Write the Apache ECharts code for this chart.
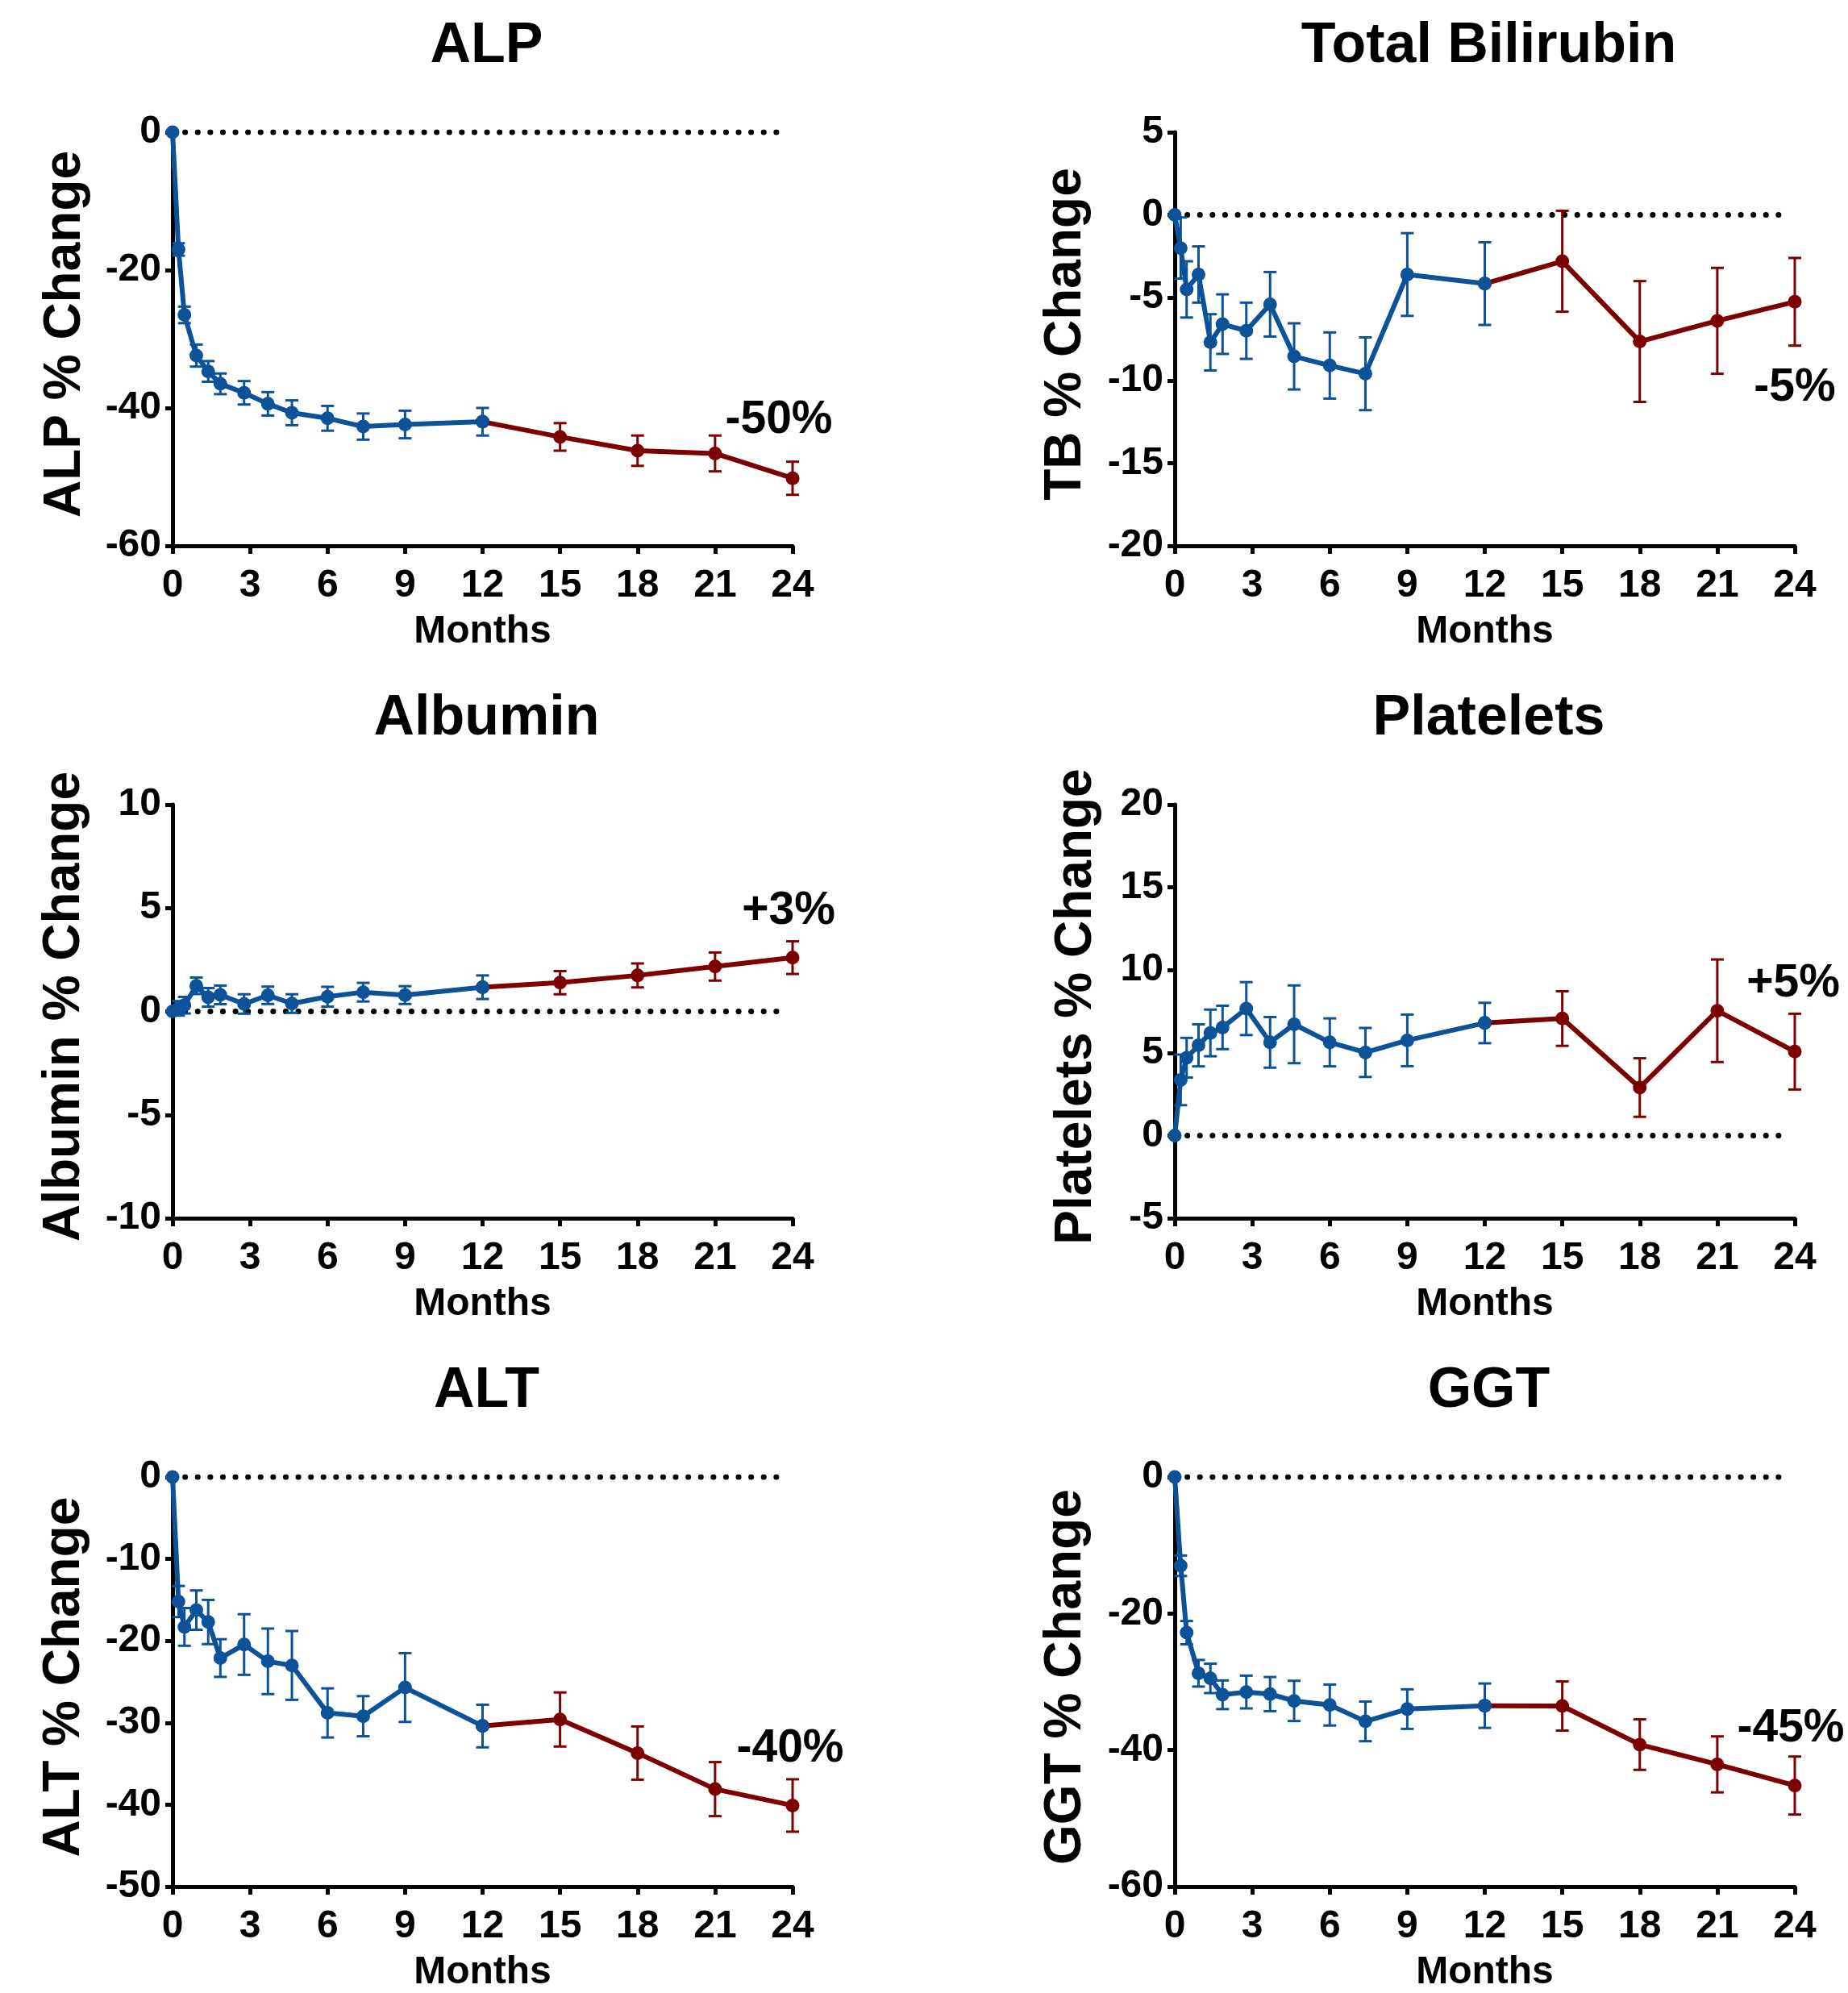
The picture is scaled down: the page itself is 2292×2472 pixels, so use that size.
<!DOCTYPE html>
<html>
<head>
<meta charset="utf-8">
<script src="https://cdn.jsdelivr.net/npm/echarts@6/dist/echarts.min.js"></script>
<style>
  html, body { margin: 0; padding: 0; background: #fff; }
  #main { width: 2292px; height: 2472px; }
</style>
</head>
<body>
<div id="main"></div>
<script>
// visit times in months (weeks 0,1,2,4,6,8,12,16,20,26,32,39,52,65,78,91,104)
var months = [0, 0.23, 0.46, 0.92, 1.38, 1.85, 2.77, 3.69, 4.62, 6, 7.38, 9, 12, 15, 18, 21, 24];
var splitIdx = 12; // blue up to month 12, red after

var xTicks = { min: 0, max: 24, interval: 3 };
var zeroLineX = [0, 23.6];

var panelTitles = ['ALP', 'Total Bilirubin', 'Albumin', 'Platelets', 'ALT', 'GGT'];
var yNames = ['ALP % Change', 'TB % Change', 'Albumin % Change', 'Platelets % Change', 'ALT % Change', 'GGT % Change'];
var yMin = [-60, -20, -10, -5, -50, -60];
var yMax = [0, 5, 10, 20, 0, 0];
var yStep = [20, 5, 5, 5, 10, 20];
var endLabels = ['-50%', '-5%', '+3%', '+5%', '-40%', '-45%'];

var alpMean = [0, -17, -26.5, -32.4, -34.7, -36.5, -37.8, -39.4, -40.7, -41.5, -42.7, -42.4, -42.0, -44.2, -46.2, -46.6, -50.2];
var alpSem = [0, 0.9, 1.2, 1.6, 1.5, 1.5, 1.7, 1.7, 1.8, 1.8, 1.9, 2.0, 2.0, 2.0, 2.2, 2.6, 2.4];

var tbMean = [0, -2.0, -4.5, -3.6, -7.7, -6.6, -7.0, -5.4, -8.55, -9.1, -9.6, -3.6, -4.15, -2.8, -7.65, -6.4, -5.25];
var tbSem = [0, 1.85, 1.7, 1.7, 1.7, 1.8, 1.7, 1.95, 2.0, 2.0, 2.2, 2.5, 2.5, 3.05, 3.65, 3.2, 2.65];

var albMean = [0, 0.15, 0.3, 1.24, 0.68, 0.8, 0.36, 0.78, 0.38, 0.71, 0.93, 0.79, 1.17, 1.39, 1.74, 2.17, 2.6];
var albSem = [0, 0.35, 0.4, 0.4, 0.45, 0.45, 0.47, 0.42, 0.45, 0.48, 0.45, 0.43, 0.57, 0.56, 0.58, 0.68, 0.79];

var pltMean = [0, 3.36, 4.7, 5.45, 6.2, 6.53, 7.67, 5.63, 6.72, 5.63, 5.02, 5.75, 6.8, 7.07, 2.9, 7.54, 5.07];
var pltSem = [0, 1.53, 1.2, 1.27, 1.41, 1.31, 1.6, 1.53, 2.35, 1.45, 1.48, 1.56, 1.22, 1.65, 1.77, 3.1, 2.29];

var altMean = [0, -15.2, -18.3, -16.25, -17.7, -22.1, -20.45, -22.5, -23.0, -28.8, -29.2, -25.7, -30.4, -29.6, -33.7, -38.1, -40.1];
var altSem = [0, 1.9, 2.3, 2.4, 2.7, 2.3, 3.7, 4.0, 4.2, 3.0, 2.45, 4.2, 2.6, 3.3, 3.25, 3.3, 3.2];

var ggtMean = [0, -13.0, -22.8, -28.75, -29.5, -31.9, -31.5, -31.8, -32.8, -33.4, -35.8, -34.0, -33.5, -33.55, -39.2, -42.1, -45.2];
var ggtSem = [0, 1.5, 1.7, 1.95, 2.15, 2.1, 2.4, 2.5, 2.95, 3.0, 2.9, 2.9, 3.25, 3.6, 3.7, 4.1, 4.25];

var means = [alpMean, tbMean, albMean, pltMean, altMean, ggtMean];
var sems = [alpSem, tbSem, albSem, pltSem, altSem, ggtSem];

// layout
var colLeft = [214, 1457];
var rowTop = [164, 998, 1832];
var plotW = 769, plotH = 513;
var nameGaps = [101, 103, 102, 90, 102, 103];
var labelPos = [[966, 521], [2226, 481], [978, 1130], [2224, 1220], [980, 2169], [2221, 2144]];

var blue = '#0b5299';
var red = '#7d0000';
var font = 'Liberation Sans, Arial, sans-serif';

function errRender(color) {
  return function (params, api) {
    var x = api.value(0);
    var top = api.coord([x, api.value(2)]);
    var bot = api.coord([x, api.value(1)]);
    var hw = 8;
    var st = { stroke: color, lineWidth: 3 };
    return {
      type: 'group',
      children: [
        { type: 'line', shape: { x1: top[0], y1: top[1], x2: bot[0], y2: bot[1] }, style: st },
        { type: 'line', shape: { x1: top[0] - hw, y1: top[1], x2: top[0] + hw, y2: top[1] }, style: st },
        { type: 'line', shape: { x1: bot[0] - hw, y1: bot[1], x2: bot[0] + hw, y2: bot[1] }, style: st }
      ]
    };
  };
}

var grids = [], xAxes = [], yAxes = [], titles = [], series = [], graphics = [];

for (var i = 0; i < 6; i++) {
  var col = i % 2, row = Math.floor(i / 2);
  grids.push({ left: colLeft[col], top: rowTop[row], width: plotW, height: plotH });

  titles.push({
    text: panelTitles[i],
    left: colLeft[col] + plotW / 2,
    top: rowTop[row] - 146,
    textAlign: 'center',
    textStyle: { fontSize: 70, fontWeight: 'bold', color: '#000', fontFamily: font }
  });

  xAxes.push({
    type: 'value', gridIndex: i,
    min: xTicks.min, max: xTicks.max, interval: xTicks.interval,
    axisLine: { show: true, onZero: false, lineStyle: { color: '#000', width: 5 } },
    axisTick: { show: true, length: 10, lineStyle: { color: '#000', width: 5 } },
    axisLabel: { color: '#000', fontSize: 48, fontWeight: 'bold', fontFamily: font, margin: 26 },
    splitLine: { show: false },
    name: 'Months', nameLocation: 'middle', nameGap: 83,
    nameTextStyle: { color: '#000', fontSize: 48, fontWeight: 'bold', fontFamily: font }
  });

  yAxes.push({
    type: 'value', gridIndex: i,
    min: yMin[i], max: yMax[i], interval: yStep[i],
    axisLine: { show: true, lineStyle: { color: '#000', width: 5 } },
    axisTick: { show: true, length: 9, lineStyle: { color: '#000', width: 5 } },
    axisLabel: { color: '#000', fontSize: 48, fontWeight: 'bold', fontFamily: font, margin: 14 },
    splitLine: { show: false },
    name: yNames[i], nameLocation: 'middle', nameGap: nameGaps[i],
    nameTextStyle: { color: '#000', fontSize: 64, fontWeight: 'bold', fontFamily: font, padding: [0, 0, 0, 12] }
  });

  // dotted zero reference
  series.push({
    type: 'line', xAxisIndex: i, yAxisIndex: i,
    data: [[zeroLineX[0], 0], [zeroLineX[1], 0]],
    symbol: 'none', silent: true, z: 1,
    lineStyle: { color: '#000', width: 7, type: [0.1, 15.5], cap: 'round' }
  });

  var m = means[i], s = sems[i];
  var bluePts = [], redPts = [], blueErr = [], redErr = [];
  for (var k = 0; k < months.length; k++) {
    if (k <= splitIdx) {
      bluePts.push([months[k], m[k]]);
      if (s[k] > 0) blueErr.push([months[k], m[k] - s[k], m[k] + s[k]]);
    }
    if (k >= splitIdx) {
      redPts.push([months[k], m[k]]);
      if (k > splitIdx) redErr.push([months[k], m[k] - s[k], m[k] + s[k]]);
    }
  }

  series.push({
    type: 'custom', xAxisIndex: i, yAxisIndex: i, data: redErr,
    renderItem: errRender(red), z: 2, clip: false, silent: true
  });
  series.push({
    type: 'line', xAxisIndex: i, yAxisIndex: i, data: redPts,
    symbol: 'circle', symbolSize: 17, clip: false, z: 3,
    lineStyle: { color: red, width: 6 }, itemStyle: { color: red }
  });
  series.push({
    type: 'custom', xAxisIndex: i, yAxisIndex: i, data: blueErr,
    renderItem: errRender(blue), z: 4, clip: false, silent: true
  });
  series.push({
    type: 'line', xAxisIndex: i, yAxisIndex: i, data: bluePts,
    symbol: 'circle', symbolSize: 17, clip: false, z: 5,
    lineStyle: { color: blue, width: 6 }, itemStyle: { color: blue }
  });

  graphics.push({
    type: 'text', x: labelPos[i][0], y: labelPos[i][1], z: 10,
    style: {
      text: endLabels[i], fill: '#000', fontSize: 57, fontWeight: 'bold', fontFamily: font,
      align: 'center', verticalAlign: 'middle'
    }
  });
}

var chart = echarts.init(document.getElementById('main'), null, { renderer: 'canvas' });
chart.setOption({
  animation: false,
  backgroundColor: '#fff',
  title: titles,
  grid: grids,
  xAxis: xAxes,
  yAxis: yAxes,
  series: series,
  graphic: graphics
});
</script>
</body>
</html>
